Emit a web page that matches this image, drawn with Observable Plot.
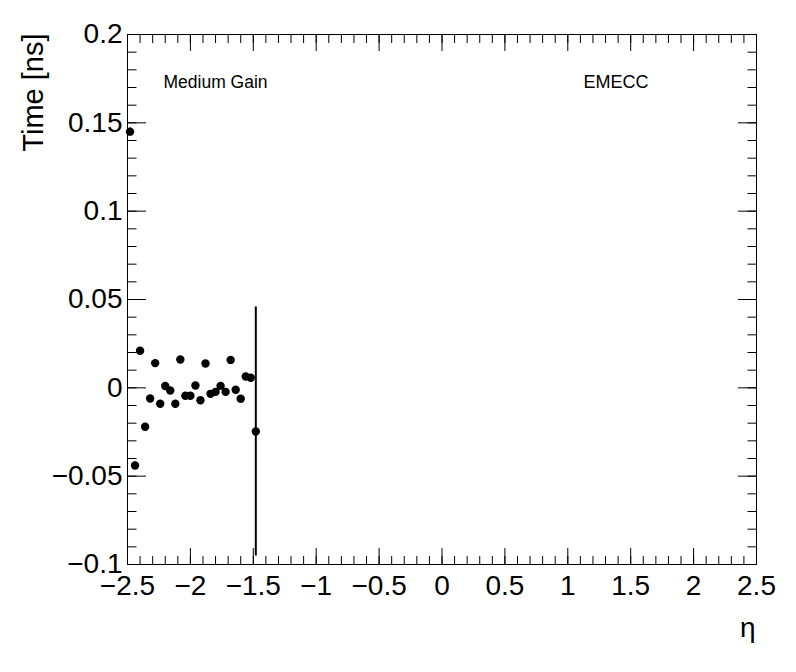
<!DOCTYPE html>
<html><head><meta charset="utf-8">
<script src="https://cdn.jsdelivr.net/npm/d3@7"></script>
<script src="https://cdn.jsdelivr.net/npm/@observablehq/plot@0.6"></script>
<style>body{margin:0;background:#fff}#chart{width:796px;height:672px}</style>
</head><body><div id="chart"></div>
<script>
const eta = [-2.48,-2.44,-2.40,-2.36,-2.32,-2.28,-2.24,-2.20,-2.16,-2.12,-2.08,-2.04,-2.00,-1.96,-1.92,-1.88,-1.84,-1.80,-1.76,-1.72,-1.68,-1.64,-1.60,-1.56,-1.52,-1.48];
const time = [0.145,-0.044,0.021,-0.022,-0.006,0.014,-0.009,0.001,-0.0015,-0.009,0.016,-0.0045,-0.0045,0.0013,-0.007,0.0138,-0.0034,-0.0023,0.0011,-0.0023,0.0158,-0.0011,-0.0062,0.0064,0.0057,-0.0247];
const timeErr = [0.002,0.002,0.001,0.001,0.001,0.001,0.001,0.001,0.001,0.001,0.001,0.001,0.001,0.001,0.001,0.001,0.001,0.001,0.001,0.001,0.001,0.001,0.001,0.001,0.001,0.0705];
const xTicks = [-2.5,-2,-1.5,-1,-0.5,0,0.5,1,1.5,2,2.5];
const xTickLabels = ["\u22122.5","\u22122","\u22121.5","\u22121","\u22120.5","0","0.5","1","1.5","2","2.5"];
const yTicks = [-0.1,-0.05,0,0.05,0.1,0.15,0.2];
const yTickLabels = ["\u22120.1","\u22120.05","0","0.05","0.1","0.15","0.2"];
const xMinor = d3.range(-25, 26).map(i => i / 10);
const yMinor = d3.range(-10, 21).map(i => i / 100);
const panelLabel = "Medium Gain";
const regionLabel = "EMECC";
const xTitle = "\u03b7";
const yTitle = "Time [ns]";

const data = eta.map((e, i) => ({eta: e, t: time[i], err: timeErr[i]}));
const xLab = new Map(xTicks.map((v, i) => [v, xTickLabels[i]]));
const yLab = new Map(yTicks.map((v, i) => [v, yTickLabels[i]]));
const blank = () => "";

const chart = Plot.plot({
  width: 796,
  height: 672,
  marginLeft: 127,
  marginRight: 40,
  marginTop: 34,
  marginBottom: 108,
  style: {fontFamily: "'Liberation Sans', Arial, sans-serif", fontSize: "28px", background: "#fff", color: "#000"},
  x: {domain: [-2.5, 2.5], axis: null, label: null},
  y: {domain: [-0.1, 0.2], axis: null, label: null},
  marks: [
    Plot.frame({stroke: "#000", strokeWidth: 1}),
    // minor ticks
    Plot.axisX(xMinor, {anchor: "bottom", tickSize: -8, tickFormat: blank, label: null}),
    Plot.axisX(xMinor, {anchor: "top", tickSize: -8, tickFormat: blank, label: null}),
    Plot.axisY(yMinor, {anchor: "left", tickSize: -9.5, tickFormat: blank, label: null}),
    Plot.axisY(yMinor, {anchor: "right", tickSize: -9.5, tickFormat: blank, label: null}),
    // major ticks
    Plot.axisX(xTicks, {anchor: "bottom", tickSize: -16, tickFormat: blank, label: null}),
    Plot.axisX(xTicks, {anchor: "top", tickSize: -16, tickFormat: blank, label: null}),
    Plot.axisY(yTicks, {anchor: "left", tickSize: -19, tickFormat: blank, label: null}),
    Plot.axisY(yTicks, {anchor: "right", tickSize: -19, tickFormat: blank, label: null}),
    // labels
    Plot.axisX(xTicks, {anchor: "bottom", tickSize: 0, tickPadding: 11, tickFormat: d => xLab.get(d), fontSize: 28, label: null}),
    Plot.axisY(yTicks, {anchor: "left", tickSize: 0, tickPadding: 5, tickFormat: d => yLab.get(d), fontSize: 28, label: null}),
    // data
    Plot.ruleX(data, {x: "eta", y1: d => d.t - d.err, y2: d => d.t + d.err, stroke: "#000", strokeWidth: 2}),
    Plot.dot(data, {x: "eta", y: "t", r: 4.2, fill: "#000", stroke: "none"}),
    // annotations
    Plot.text([panelLabel], {frameAnchor: "top-left", textAnchor: "start", dx: 36, dy: 41, fontSize: 17.5, fill: "#000"}),
    Plot.text([regionLabel], {frameAnchor: "top-left", textAnchor: "start", dx: 456, dy: 41, fontSize: 18, fill: "#000"}),
    Plot.text([xTitle], {frameAnchor: "bottom-right", textAnchor: "end", dx: -1, dy: 72, fontSize: 28, fill: "#000"}),
    Plot.text([yTitle], {frameAnchor: "top-left", textAnchor: "end", rotate: -90, dx: -105, dy: -1, fontSize: 29, fill: "#000"})
  ]
});
document.getElementById("chart").appendChild(chart);
</script>
</body></html>
